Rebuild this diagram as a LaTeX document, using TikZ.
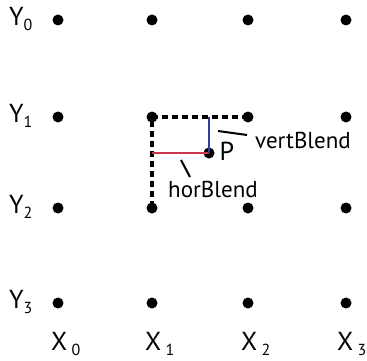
\documentclass[tikz,border=0pt]{standalone}
\usepackage{fontspec}
\setmainfont{PT Sans}
\newcommand{\mysub}[1]{\raisebox{-0.22em}{\fontsize{16}{16}\selectfont #1}}
\definecolor{hred}{HTML}{C8354C}
\definecolor{vblue}{HTML}{2E3C9E}
\begin{document}
\begin{tikzpicture}[x=1pt,y=-1pt,
  gdot/.style={circle,fill=black,inner sep=0pt,minimum size=11pt},
  lbl/.style={inner sep=0pt,font=\fontsize{26}{26}\selectfont},
  lab/.style={inner sep=0pt,font=\fontsize{23}{23}\selectfont},
  dashline/.style={line width=3.2pt,dash pattern=on 6pt off 4pt},
  tick/.style={line width=2pt}]
\useasboundingbox (0,0) rectangle (367,361);
% grid dots
\foreach \i/\x in {0/58,1/152,2/248,3/346}{
  \foreach \j/\y in {0/20,1/117,2/208,3/303}{
    \node[gdot] (d\i\j) at (\x,\y) {};
  }
}
% row labels
\foreach \j/\y in {0/20,1/117,2/208,3/303}{
  \node[lbl,anchor=west] (Y\j) at (9,\y-1) {Y\mysub{\j}};
}
% column labels
\foreach \i/\x in {0/51,1/145,2/241,3/337}{
  \node[lbl,anchor=west] (X\i) at (\x,344) {X\,\mysub{\i}};
}
% point P
\node[gdot] (P) at (209,153) {};
\node[lbl] (Plbl) at (227,151) {P};
\coordinate (Ph) at (152,153);
\coordinate (Pv) at (209,117);
% dashed box
\draw[dashline] (d21.center) -- (d11.center) -- (d12.center);
% blends
\draw[hred,line width=2pt] (Ph) -- (P.center);
\draw[vblue,line width=2pt] (Pv) -- (P.center);
% labels with ticks
\node[lab] (vb) at (303,140) {vertBlend};
\node[lab] (hb) at (213,189) {horBlend};
\coordinate (vt1) at (218,131);
\coordinate (vt2) at (247,135);
\coordinate (ht1) at (181,160);
\coordinate (ht2) at (190,177);
\draw[tick] (vt1) -- (vt2);
\draw[tick] (ht1) -- (ht2);
\end{tikzpicture}
\end{document}
